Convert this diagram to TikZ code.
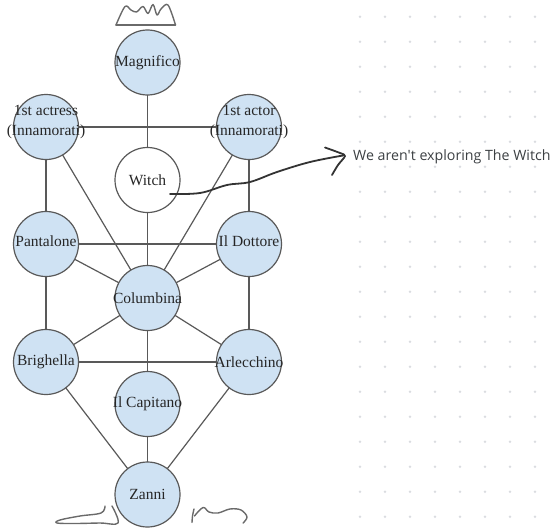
\documentclass[tikz,border=0pt]{standalone}
\usepackage{fontspec}
\setmainfont{Liberation Serif}
\newfontfamily\notefont{Open Sans}
\definecolor{pfill}{HTML}{CFE2F3}
\definecolor{pline}{HTML}{595959}
\definecolor{ptext}{HTML}{262626}
\definecolor{dotc}{HTML}{DADCE0}
\definecolor{ink}{HTML}{333333}
\definecolor{sketch}{HTML}{6A6A6A}
\definecolor{notec}{HTML}{3C4043}
\pgfdeclarelayer{bg}
\pgfsetlayers{bg,main}
\tikzset{
  pc/.style={circle, draw=pline, fill=pfill, line width=1.2pt, minimum size=65pt, inner sep=0pt},
  wc/.style={pc, fill=white},
  lbl/.style={text=ptext, font=\fontsize{15.5}{20}\selectfont, align=center, inner sep=0pt},
  edge/.style={draw=pline, line width=1.2pt},
  ink/.style={draw=ink, line width=1.8pt, line cap=round, line join=round},
  sk/.style={draw=sketch, line width=1.4pt, line cap=round, line join=round}
}
\begin{document}
\begin{tikzpicture}[x=1pt,y=-1pt]
\useasboundingbox (0,0) rectangle (553,527);
% dot grid
\foreach \i in {0,...,7}{
  \foreach \j in {0,...,20}{
    \fill[dotc] ({360+25*\i},{16.7+25*\j}) circle (1.4pt);
  }
}
% circles
\node[pc] (mag) at (147.5,62.5) {};
\node[pc] (act1) at (46,127) {};
\node[pc] (act2) at (249,127) {};
\node[wc] (witch) at (147.5,180) {};
\node[pc] (pant) at (46,244) {};
\node[pc] (dott) at (249,244) {};
\node[pc] (colu) at (147.5,298) {};
\node[pc] (brig) at (46,362) {};
\node[pc] (arle) at (249,362) {};
\node[pc] (capi) at (147.5,404) {};
\node[pc] (zann) at (147.5,494.5) {};
% labels
\node[lbl] (magt) at (mag) {Magnifico};
\node[lbl] (act1t) at ([yshift=5pt]act1) {1st actress\\(Innamorati)};
\node[lbl] (act2t) at ([yshift=5pt]act2) {1st actor\\(Innamorati)};
\node[lbl] (witcht) at (witch) {Witch};
\node[lbl] (pantt) at ([yshift=3pt]pant) {Pantalone};
\node[lbl] (dottt) at ([yshift=3pt]dott) {Il Dottore};
\node[lbl] (colut) at (colu) {Columbina};
\node[lbl] (brigt) at (brig) {Brighella};
\node[lbl] (arlet) at (arle) {Arlecchino};
\node[lbl] (capit) at (capi) {Il Capitano};
\node[lbl] (zannt) at (zann) {Zanni};
% edges
\begin{pgfonlayer}{bg}
\path[edge] (mag.center) -- (witch.center);
\path[edge] (witch.center) -- (colu.center);
\path[edge] (act1.center) -- (act2.center);
\path[edge] (act1.center) -- (pant.center);
\path[edge] (act2.center) -- (dott.center);
\path[edge] (act1.center) -- (colu.center);
\path[edge] (act2.center) -- (colu.center);
\path[edge] (pant.center) -- (dott.center);
\path[edge] (pant.center) -- (colu.center);
\path[edge] (dott.center) -- (colu.center);
\path[edge] (pant.center) -- (brig.center);
\path[edge] (dott.center) -- (arle.center);
\path[edge] (colu.center) -- (brig.center);
\path[edge] (colu.center) -- (arle.center);
\path[edge] (brig.center) -- (arle.center);
\path[edge] (colu.center) -- (capi.center);
\path[edge] (capi.center) -- (zann.center);
\path[edge] (brig.center) -- (zann.center);
\path[edge] (arle.center) -- (zann.center);
\end{pgfonlayer}
% note
\node[anchor=base west, inner sep=0pt, text=notec, font=\notefont\fontsize{14.2}{17}\selectfont] (note) at (353,160) {We aren't exploring The Witch};
% hand-drawn arrow
\coordinate (as) at (170,194);
\coordinate (at) at (345,156);
\path[ink] plot[smooth, tension=0.6] coordinates {(as) (200,193) (227,185) (250,182) (277,172) (310,162) (343,155.5)};
\path[ink] plot[smooth, tension=0.5] coordinates {(325,147.5) (340,153) (at) (338,165) (332,175)};
% crown
\path[sk] (116,25) -- (175.5,25);
\path[sk] plot[smooth, tension=0.55] coordinates {(116,25) (125,6.5) (131,10) (136.5,12) (143,6.5) (148,13.5) (153,4.5) (157,15) (161,9) (168,5) (175.5,25)};
% shoes
\path[sk] plot[smooth, tension=0.6] coordinates {(105,506) (101,513) (80,516) (60,520) (57,523) (75,523.5) (100,523) (118,523) (112,506)};
\path[sk] plot[smooth, tension=0.6] coordinates {(194,509) (192.5,516) (192,522.5)};
\path[sk] plot[smooth, tension=0.6] coordinates {(194.5,516) (203,507.5) (209,512) (218,513) (230,509) (241,510) (247,517) (243,523)};
\end{tikzpicture}
\end{document}
